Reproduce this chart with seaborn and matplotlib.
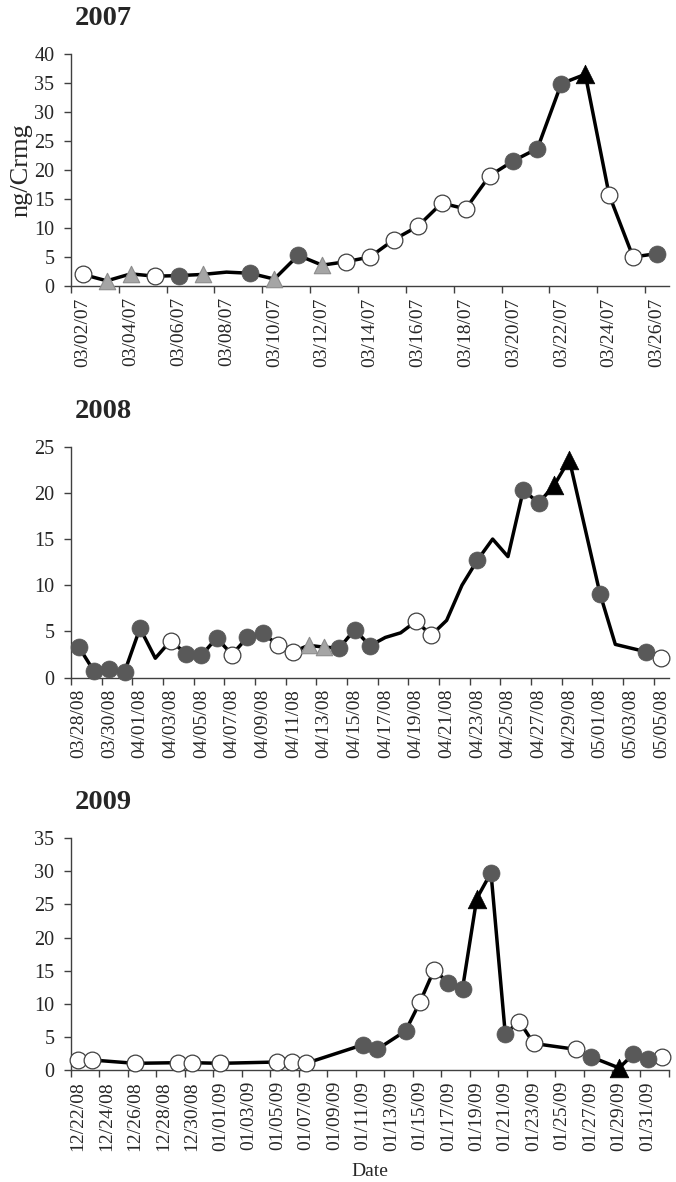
import matplotlib
matplotlib.use('Agg')
import matplotlib.pyplot as plt
import seaborn as sns
import pandas as pd

# marker codes: o = open circle, d = dark circle, g = grey triangle, b = black triangle, - = no marker
dates_2007 = ['03/02/07', '03/03/07', '03/04/07', '03/05/07', '03/06/07', '03/07/07', '03/08/07',
              '03/09/07', '03/10/07', '03/11/07', '03/12/07', '03/13/07', '03/14/07', '03/15/07',
              '03/16/07', '03/17/07', '03/18/07', '03/19/07', '03/20/07', '03/21/07', '03/22/07',
              '03/23/07', '03/24/07', '03/25/07', '03/26/07']
vals_2007 = [2.0, 0.9, 2.1, 1.7, 1.8, 2.0, 2.4, 2.2, 1.2, 5.3, 3.6, 4.2, 5.0, 8.0,
             10.3, 14.3, 13.3, 19.0, 21.6, 23.7, 34.9, 36.5, 15.7, 5.0, 5.6]
marks_2007 = ['o', 'g', 'g', 'o', 'd', 'g', '-', 'd', 'g', 'd', 'g', 'o', 'o', 'o',
              'o', 'o', 'o', 'o', 'd', 'd', 'd', 'b', 'o', 'o', 'd']
ticks_2007 = ['03/02/07', '03/04/07', '03/06/07', '03/08/07', '03/10/07', '03/12/07', '03/14/07',
              '03/16/07', '03/18/07', '03/20/07', '03/22/07', '03/24/07', '03/26/07']

dates_2008 = ['03/28/08', '03/29/08', '03/30/08', '03/31/08', '04/01/08', '04/02/08', '04/03/08',
              '04/04/08', '04/05/08', '04/06/08', '04/07/08', '04/08/08', '04/09/08', '04/10/08',
              '04/11/08', '04/12/08', '04/13/08', '04/14/08', '04/15/08', '04/16/08', '04/17/08',
              '04/18/08', '04/19/08', '04/20/08', '04/21/08', '04/22/08', '04/23/08', '04/24/08',
              '04/25/08', '04/26/08', '04/27/08', '04/28/08', '04/29/08', '05/01/08', '05/02/08',
              '05/04/08', '05/05/08']
vals_2008 = [3.35, 0.7, 0.9, 0.65, 5.35, 2.1, 4.0, 2.6, 2.4, 4.3, 2.5, 4.35, 4.8, 3.55,
             2.8, 3.5, 3.3, 3.2, 5.2, 3.45, 4.35, 4.85, 6.1, 4.6, 6.2, 10.0, 12.7, 15.0,
             13.1, 20.3, 18.9, 20.8, 23.6, 9.1, 3.6, 2.8, 2.1]
marks_2008 = ['d', 'd', 'd', 'd', 'd', '-', 'o', 'd', 'd', 'd', 'o', 'd', 'd', 'o',
              'o', 'g', 'g', 'd', 'd', 'd', '-', '-', 'o', 'o', '-', '-', 'd', '-',
              '-', 'd', 'd', 'b', 'b', 'd', '-', 'd', 'o']
ticks_2008 = ['03/28/08', '03/30/08', '04/01/08', '04/03/08', '04/05/08', '04/07/08', '04/09/08',
              '04/11/08', '04/13/08', '04/15/08', '04/17/08', '04/19/08', '04/21/08', '04/23/08',
              '04/25/08', '04/27/08', '04/29/08', '05/01/08', '05/03/08', '05/05/08']

dates_2009 = ['12/22/08', '12/23/08', '12/26/08', '12/29/08', '12/30/08', '01/01/09', '01/05/09',
              '01/06/09', '01/07/09', '01/11/09', '01/12/09', '01/14/09', '01/15/09', '01/16/09',
              '01/17/09', '01/18/09', '01/19/09', '01/20/09', '01/21/09', '01/22/09', '01/23/09',
              '01/26/09', '01/27/09', '01/29/09', '01/30/09', '01/31/09', '02/01/09']
vals_2009 = [1.5, 1.5, 1.0, 1.1, 1.1, 1.0, 1.2, 1.2, 1.0, 3.8, 3.1, 5.9, 10.2, 15.1,
             13.2, 12.3, 25.9, 29.8, 5.5, 7.3, 4.0, 3.1, 2.0, 0.3, 2.4, 1.6, 1.9]
marks_2009 = ['o', 'o', 'o', 'o', 'o', 'o', 'o', 'o', 'o', 'd', 'd', 'd', 'o', 'o',
              'd', 'd', 'b', 'd', 'd', 'o', 'o', 'o', 'd', 'b', 'd', 'd', 'o']
ticks_2009 = ['12/22/08', '12/24/08', '12/26/08', '12/28/08', '12/30/08', '01/01/09', '01/03/09',
              '01/05/09', '01/07/09', '01/09/09', '01/11/09', '01/13/09', '01/15/09', '01/17/09',
              '01/19/09', '01/21/09', '01/23/09', '01/25/09', '01/27/09', '01/29/09', '01/31/09']

MARKS = {
    'o': dict(marker='o', s=145, color='white', edgecolor='#404040', linewidth=0.9),
    'd': dict(marker='o', s=150, color='#595959', edgecolor='#595959', linewidth=0.5),
    'g': dict(marker='^', s=140, color='#a5a5a5', edgecolor='#8c8c8c', linewidth=0.8),
    'b': dict(marker='^', s=180, color='black', edgecolor='black', linewidth=0.5),
}

sns.set_style('ticks')
plt.rcParams['font.family'] = ['Liberation Serif', 'DejaVu Serif']
AXC = '#404040'

fig = plt.figure(figsize=(6.76, 11.82), dpi=100)

panels = [
    ('2007', dates_2007, vals_2007, marks_2007, ticks_2007, 40, [0.105, 0.758, 0.8846, 0.1963]),
    ('2008', dates_2008, vals_2008, marks_2008, ticks_2008, 25, [0.105, 0.4267, 0.8846, 0.1954]),
    ('2009', dates_2009, vals_2009, marks_2009, ticks_2009, 35, [0.105, 0.0948, 0.8846, 0.1960]),
]

for i, (title, dates, vals, marks, ticks, ymax, rect) in enumerate(panels):
    ax = fig.add_axes(rect)
    df = pd.DataFrame({'date': pd.to_datetime(dates, format='%m/%d/%y'), 'val': vals, 'mark': marks})
    sns.lineplot(data=df, x='date', y='val', color='black', lw=2.5, ax=ax, zorder=2)
    for code, st in MARKS.items():
        sub = df[df['mark'] == code]
        if len(sub):
            sns.scatterplot(data=sub, x='date', y='val', ax=ax, zorder=3, clip_on=False,
                            legend=False, **st)

    start = df['date'].min() - pd.Timedelta(hours=12)
    end = df['date'].max() + pd.Timedelta(hours=12)
    ax.set_xlim(start, end)
    ax.set_ylim(0, ymax)
    ax.set_yticks(range(0, ymax + 1, 5))

    tick_pos = pd.to_datetime(ticks, format='%m/%d/%y')
    ax.set_xticks(tick_pos)
    ax.set_xticklabels(ticks, rotation=90)
    ax.set_xticks(pd.date_range(start, end, freq='2D'), minor=True)
    ax.tick_params(axis='x', which='major', length=0, pad=8, labelsize=14)
    ax.tick_params(axis='x', which='minor', length=5, width=1, color=AXC)
    ax.tick_params(axis='y', length=5, width=1, color=AXC, pad=7, labelsize=14.5)

    sns.despine(ax=ax)
    for sp in ['left', 'bottom']:
        ax.spines[sp].set_color(AXC)
        ax.spines[sp].set_linewidth(1)

    ax.set_ylabel('ng/Crmg' if i == 0 else '', fontsize=19, labelpad=1)
    ax.set_xlabel('Date' if i == 2 else '', fontsize=14, labelpad=9)

    ax.annotate(title, xy=(0, 1), xycoords='axes fraction', xytext=(4, 29),
                textcoords='offset pixels', fontsize=20.5, fontweight='bold',
                ha='left', va='baseline')

fig.savefig('out.png', dpi=100)
